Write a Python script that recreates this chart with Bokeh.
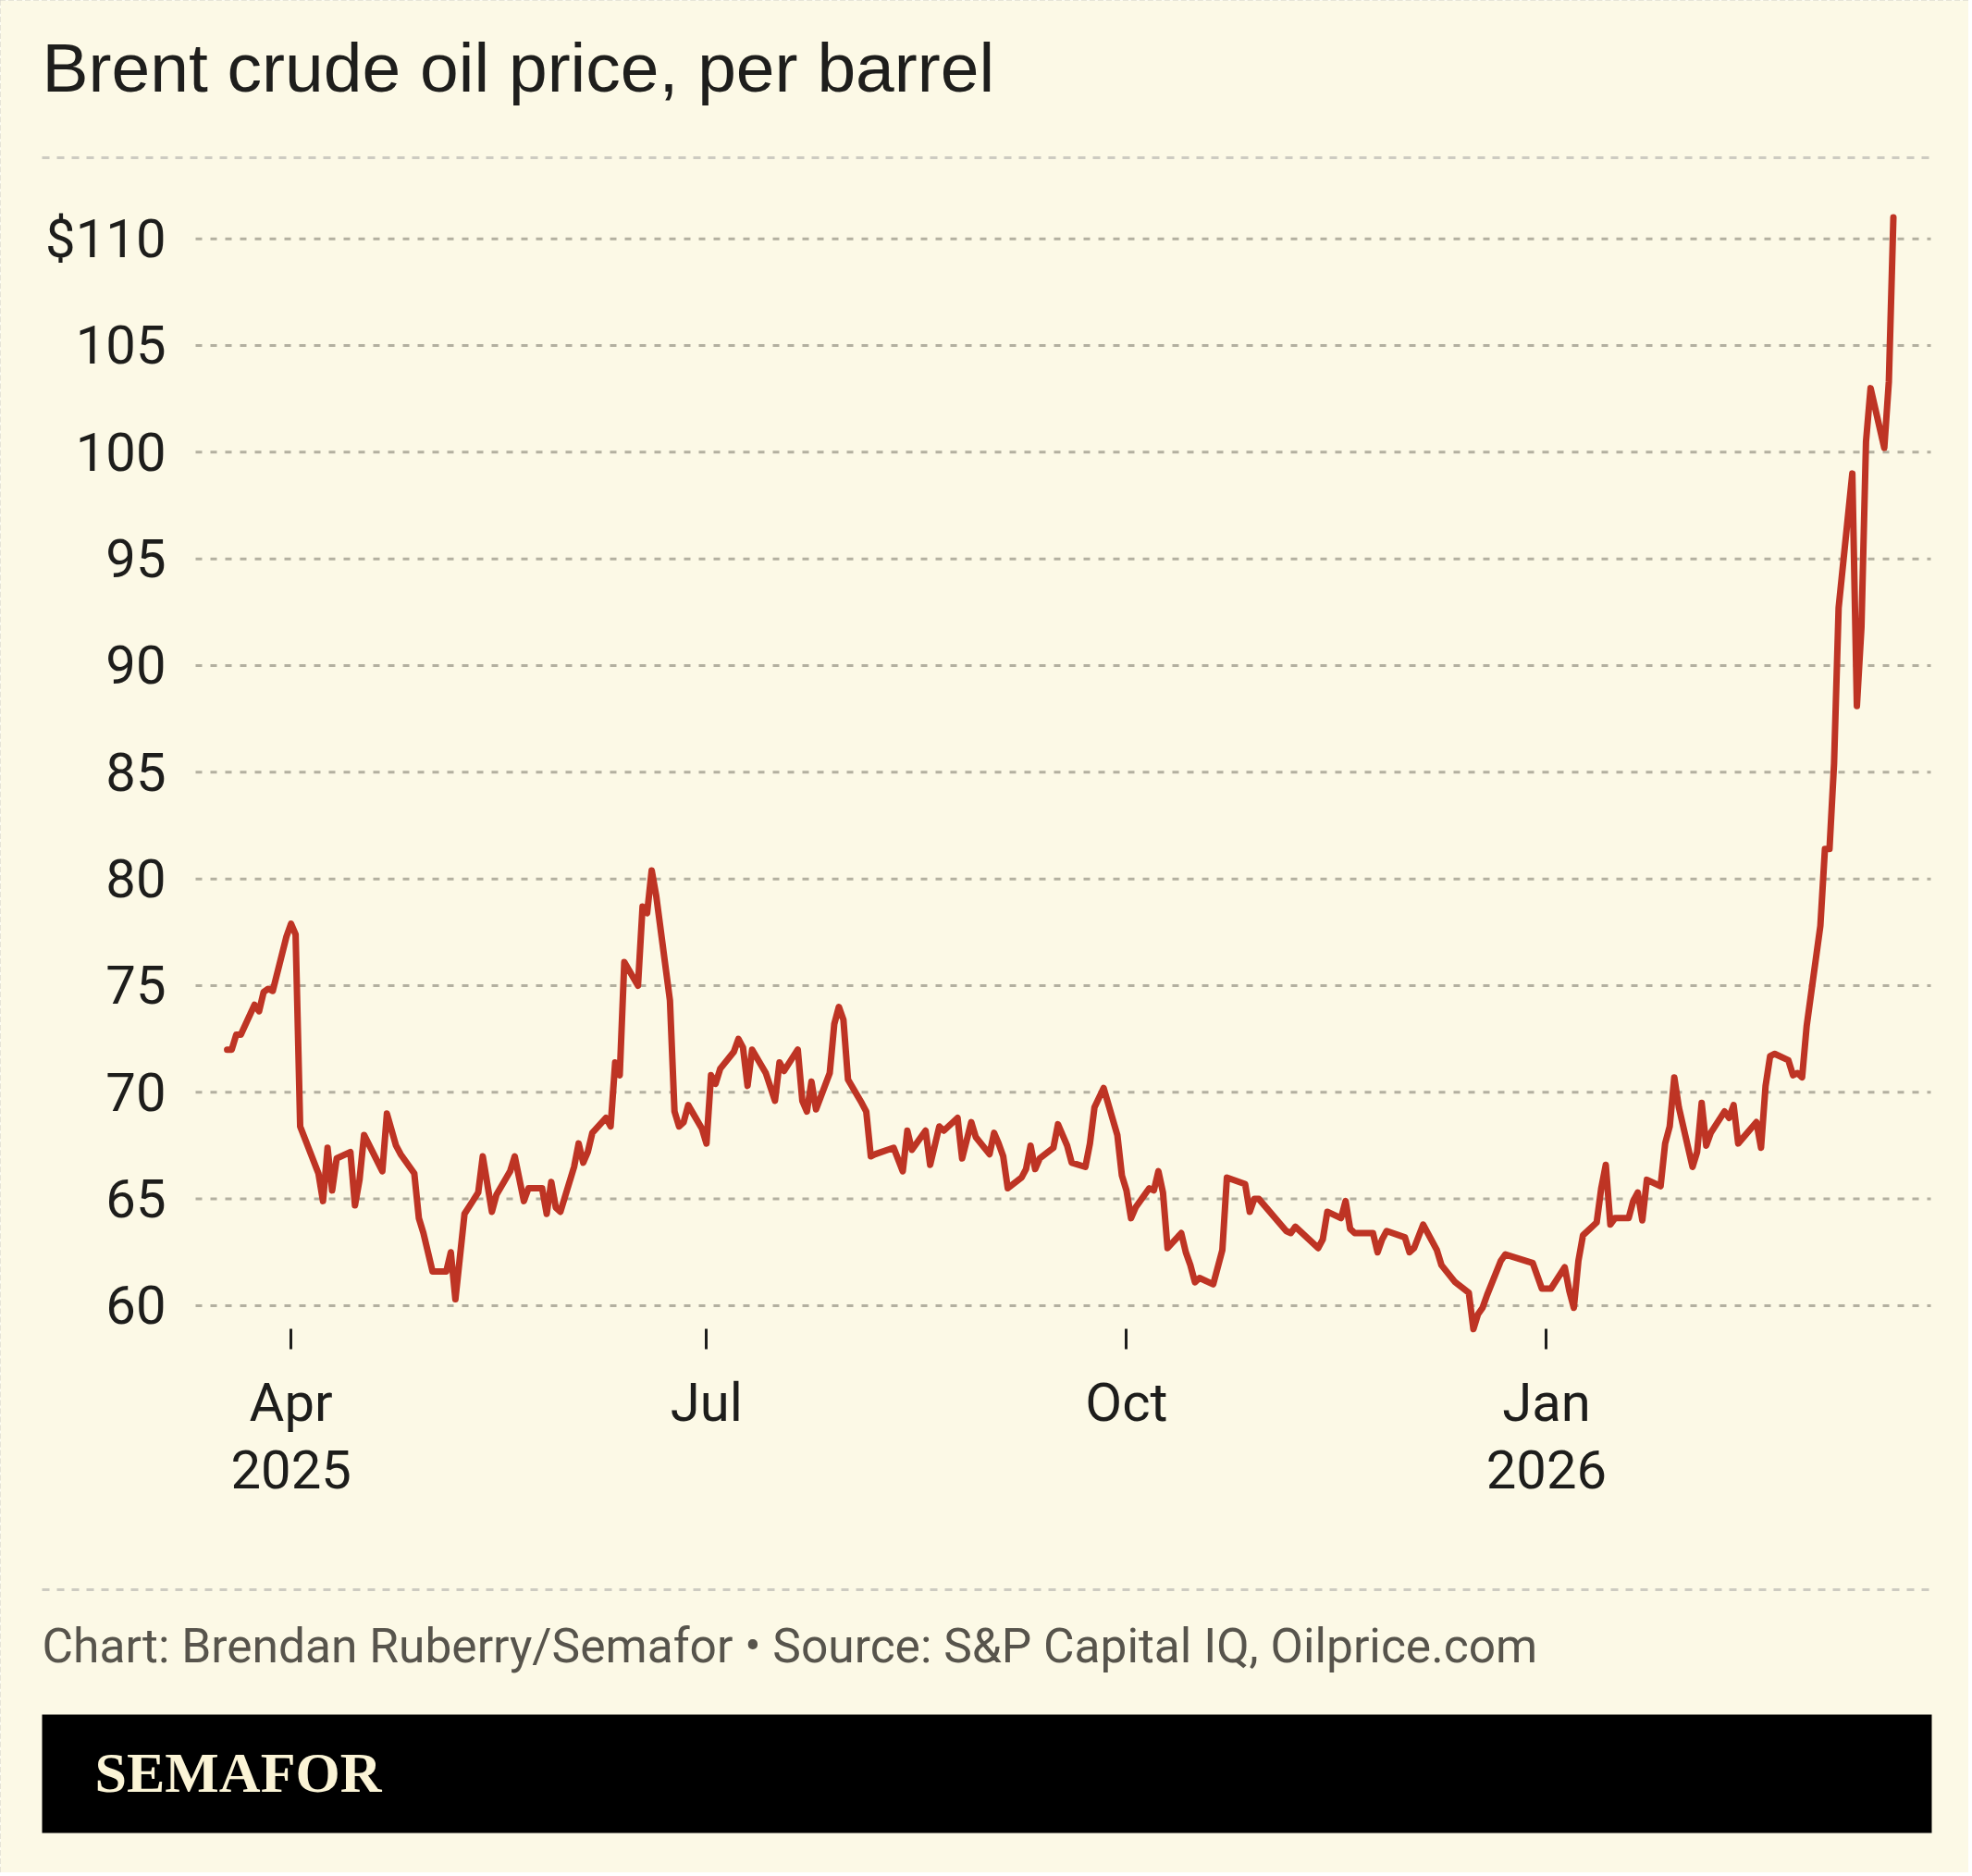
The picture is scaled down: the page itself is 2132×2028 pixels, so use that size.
import pandas as pd
from bokeh.plotting import figure
from bokeh.models import (Range1d, FixedTicker, ColumnDataSource, DatetimeAxis, LinearAxis)
from bokeh.embed import file_html
from bokeh.resources import INLINE
from bokeh.core.properties import value

# ---------------- data ----------------
dates = [
    "2025-03-18", "2025-03-19", "2025-03-20", "2025-03-21", "2025-03-24", "2025-03-25",
    "2025-03-26", "2025-03-27", "2025-03-28", "2025-03-31", "2025-04-01", "2025-04-02",
    "2025-04-03", "2025-04-07", "2025-04-08", "2025-04-09", "2025-04-10", "2025-04-11",
    "2025-04-14", "2025-04-15", "2025-04-16", "2025-04-17", "2025-04-21", "2025-04-22",
    "2025-04-24", "2025-04-25", "2025-04-28", "2025-04-29", "2025-04-30", "2025-05-02",
    "2025-05-05", "2025-05-06", "2025-05-07", "2025-05-09", "2025-05-12", "2025-05-13",
    "2025-05-15", "2025-05-16", "2025-05-19", "2025-05-20", "2025-05-22", "2025-05-23",
    "2025-05-26", "2025-05-27", "2025-05-28", "2025-05-29", "2025-05-30", "2025-06-02",
    "2025-06-03", "2025-06-04", "2025-06-05", "2025-06-06", "2025-06-09", "2025-06-10",
    "2025-06-11", "2025-06-12", "2025-06-13", "2025-06-16", "2025-06-17", "2025-06-18",
    "2025-06-19", "2025-06-20", "2025-06-23", "2025-06-24", "2025-06-25", "2025-06-26",
    "2025-06-27", "2025-06-30", "2025-07-01", "2025-07-02", "2025-07-03", "2025-07-04",
    "2025-07-07", "2025-07-08", "2025-07-09", "2025-07-10", "2025-07-11", "2025-07-14",
    "2025-07-16", "2025-07-17", "2025-07-18", "2025-07-21", "2025-07-22", "2025-07-23",
    "2025-07-24", "2025-07-25", "2025-07-28", "2025-07-29", "2025-07-30", "2025-07-31",
    "2025-08-01", "2025-08-04", "2025-08-05", "2025-08-06", "2025-08-07", "2025-08-11",
    "2025-08-13", "2025-08-14", "2025-08-15", "2025-08-18", "2025-08-19", "2025-08-21",
    "2025-08-22", "2025-08-25", "2025-08-26", "2025-08-28", "2025-08-29", "2025-09-01",
    "2025-09-02", "2025-09-03", "2025-09-04", "2025-09-05", "2025-09-08", "2025-09-09",
    "2025-09-10", "2025-09-11", "2025-09-12", "2025-09-15", "2025-09-16", "2025-09-18",
    "2025-09-19", "2025-09-22", "2025-09-23", "2025-09-24", "2025-09-26", "2025-09-29",
    "2025-09-30", "2025-10-01", "2025-10-02", "2025-10-03", "2025-10-06", "2025-10-07",
    "2025-10-08", "2025-10-09", "2025-10-10", "2025-10-13", "2025-10-14", "2025-10-15",
    "2025-10-16", "2025-10-17", "2025-10-20", "2025-10-22", "2025-10-23", "2025-10-27",
    "2025-10-28", "2025-10-29", "2025-10-30", "2025-11-05", "2025-11-06", "2025-11-07",
    "2025-11-12", "2025-11-13", "2025-11-14", "2025-11-17", "2025-11-18", "2025-11-19",
    "2025-11-20", "2025-11-24", "2025-11-25", "2025-11-26", "2025-11-27", "2025-12-01",
    "2025-12-02", "2025-12-03", "2025-12-05", "2025-12-08", "2025-12-09", "2025-12-12",
    "2025-12-15", "2025-12-16", "2025-12-17", "2025-12-18", "2025-12-19", "2025-12-22",
    "2025-12-23", "2025-12-29", "2025-12-31", "2026-01-02", "2026-01-05", "2026-01-06",
    "2026-01-07", "2026-01-08", "2026-01-09", "2026-01-12", "2026-01-13", "2026-01-14",
    "2026-01-15", "2026-01-16", "2026-01-19", "2026-01-20", "2026-01-21", "2026-01-22",
    "2026-01-23", "2026-01-26", "2026-01-27", "2026-01-28", "2026-01-29", "2026-01-30",
    "2026-02-02", "2026-02-03", "2026-02-04", "2026-02-05", "2026-02-06", "2026-02-09",
    "2026-02-10", "2026-02-11", "2026-02-12", "2026-02-16", "2026-02-17", "2026-02-18",
    "2026-02-19", "2026-02-20", "2026-02-23", "2026-02-24", "2026-02-25", "2026-02-26",
    "2026-02-27", "2026-03-02", "2026-03-03", "2026-03-04", "2026-03-05", "2026-03-06",
    "2026-03-09", "2026-03-10", "2026-03-11", "2026-03-12", "2026-03-13", "2026-03-16",
    "2026-03-17", "2026-03-18",
]
prices = [
    72.0, 72.0, 72.7, 72.7, 74.1, 73.8,
    74.7, 74.85, 74.75, 77.3, 77.9, 77.4,
    68.4, 66.2, 64.9, 67.4, 65.4, 66.9,
    67.2, 64.7, 65.9, 68.0, 66.3, 69.0,
    67.5, 67.1, 66.2, 64.1, 63.4, 61.6,
    61.6, 62.5, 60.3, 64.3, 65.3, 67.0,
    64.4, 65.2, 66.3, 67.0, 64.9, 65.5,
    65.5, 64.3, 65.8, 64.6, 64.4, 66.5,
    67.6, 66.7, 67.2, 68.1, 68.8, 68.4,
    71.4, 70.8, 76.1, 75.0, 78.7, 78.4,
    80.4, 79.2, 74.3, 69.1, 68.4, 68.6,
    69.4, 68.3, 67.6, 70.8, 70.4, 71.1,
    71.9, 72.5, 72.1, 70.3, 72.0, 70.9,
    69.6, 71.4, 71.0, 72.0, 69.6, 69.1,
    70.5, 69.2, 70.9, 73.2, 74.0, 73.4,
    70.6, 69.5, 69.1, 67.0, 67.1, 67.4,
    66.3, 68.2, 67.3, 68.2, 66.6, 68.4,
    68.2, 68.8, 66.9, 68.6, 67.9, 67.1,
    68.1, 67.6, 67.0, 65.5, 66.0, 66.4,
    67.5, 66.4, 66.9, 67.4, 68.5, 67.5,
    66.7, 66.5, 67.6, 69.3, 70.2, 68.0,
    66.1, 65.4, 64.1, 64.6, 65.5, 65.4,
    66.3, 65.3, 62.7, 63.4, 62.5, 61.9,
    61.1, 61.3, 61.0, 62.6, 66.0, 65.7,
    64.4, 65.0, 65.0, 63.5, 63.4, 63.7,
    62.7, 63.1, 64.4, 64.1, 64.9, 63.6,
    63.4, 63.4, 62.5, 63.1, 63.5, 63.2,
    62.5, 62.7, 63.8, 62.6, 61.9, 61.1,
    60.6, 58.9, 59.6, 59.9, 60.5, 62.1,
    62.4, 62.0, 60.8, 60.8, 61.8, 60.7,
    59.9, 62.1, 63.3, 63.9, 65.5, 66.6,
    63.8, 64.1, 64.1, 64.9, 65.3, 64.0,
    65.9, 65.6, 67.6, 68.4, 70.7, 69.3,
    66.5, 67.2, 69.5, 67.5, 68.1, 69.1,
    68.8, 69.4, 67.6, 68.6, 67.4, 70.3,
    71.7, 71.8, 71.5, 70.8, 70.9, 70.7,
    73.1, 77.8, 81.4, 81.4, 85.4, 92.7,
    99.0, 88.1, 91.8, 100.5, 103.0, 100.2,
    103.3, 111.0,
]
y_ticks = [60, 65, 70, 75, 80, 85, 90, 95, 100, 105, 110]
y_tick_labels = ["60", "65", "70", "75", "80", "85", "90", "95", "100", "105", "$110"]
month_tick_dates = ["2025-04-01", "2025-07-01", "2025-10-01", "2026-01-01"]
month_tick_labels = ["Apr", "Jul", "Oct", "Jan"]
year_tick_dates = ["2025-04-01", "2026-01-01"]
year_tick_labels = ["2025", "2026"]
title_text = "Brent crude oil price, per barrel"
credit_text = "Chart: Brendan Ruberry/Semafor \u2022 Source: S&P Capital IQ, Oilprice.com"
brand_text = "SEMAFOR"

# ---------------- styling / layout ----------------
BG = "#FCF9E6"
INK = "#1d1d1b"
LINE = "#BE3424"
GRID = "#b3b0a0"
RULE = "#cdcbc1"
W, H = 2128, 2024
# plot area (canvas pixels) and the data values at its edges
FL, FR, FT, FB = 211, 2087, 200, 1446
APR1_MS = pd.Timestamp("2025-04-01").value // 10**6
DAY_MS = 86400000
X0_DAYS, X1_DAYS = -20.9, 359.2
Y0, Y1 = 58.48, 112.5
KX = (X1_DAYS - X0_DAYS) / (FR - FL)     # days per pixel
KY = (Y1 - Y0) / (FB - FT)               # dollars per pixel

def px_x(sx):
    return APR1_MS + (X0_DAYS + (sx - FL) * KX) * DAY_MS

def px_y(sy):
    return Y1 - (sy - FT) * KY

src = ColumnDataSource(dict(date=pd.to_datetime(dates), price=prices))

# the frame fills the whole canvas; ranges are extended so the chart area sits at FL..FR, FT..FB
p = figure(width=W, height=H,
           x_range=Range1d(px_x(0), px_x(W)), y_range=Range1d(px_y(H), px_y(0)),
           x_axis_location=None, y_axis_location=None,
           output_backend="svg", toolbar_location=None, min_border=0,
           styles={"outline": "3px dashed #d0cec8", "outline-offset": "-3px"})
p.background_fill_color = BG
p.border_fill_color = BG
p.outline_line_color = None
p.grid.visible = False

# horizontal gridlines across the plot area
n = len(y_ticks)
p.segment(x0=[px_x(FL)] * n, x1=[px_x(FR)] * n, y0=y_ticks, y1=y_ticks,
          line_color=GRID, line_width=3, line_dash="7 9")

p.line("date", "price", source=src, line_color=LINE, line_width=7,
       line_join="round", line_cap="round")

# y axis, fixed at the left edge of the plot area
yax = LinearAxis(fixed_location=px_x(FL), ticker=FixedTicker(ticks=y_ticks),
                 major_label_overrides={t: l for t, l in zip(y_ticks, y_tick_labels)},
                 axis_line_color=None, major_tick_line_color=None, minor_tick_line_color=None,
                 major_tick_in=0, major_tick_out=0, minor_tick_in=0, minor_tick_out=0,
                 major_label_standoff=32, major_label_text_font="Roboto",
                 major_label_text_font_size="58px", major_label_text_color=INK)
p.add_layout(yax, "left")

# x axis (months + ticks), fixed at the bottom of the plot area
m_ms = [pd.Timestamp(d).value // 10**6 for d in month_tick_dates]
xax = DatetimeAxis(fixed_location=px_y(FB), ticker=FixedTicker(ticks=m_ms),
                   major_label_overrides={t: l for t, l in zip(m_ms, month_tick_labels)},
                   axis_line_color=None, minor_tick_line_color=None,
                   major_tick_line_color=INK, major_tick_line_width=3,
                   major_tick_in=10, major_tick_out=12, minor_tick_in=0, minor_tick_out=0,
                   major_label_standoff=23, major_label_text_font="Roboto",
                   major_label_text_font_size="58px", major_label_text_color=INK)
p.add_layout(xax, "below")

# second row of x labels (years)
y_ms = [pd.Timestamp(d).value // 10**6 for d in year_tick_dates]
yr_axis = DatetimeAxis(fixed_location=px_y(FB), ticker=FixedTicker(ticks=y_ms),
                       major_label_overrides={t: l for t, l in zip(y_ms, year_tick_labels)},
                       axis_line_color=None, major_tick_line_color=None,
                       minor_tick_line_color=None, major_tick_in=0, major_tick_out=0,
                       minor_tick_in=0, minor_tick_out=0,
                       major_label_standoff=121, major_label_text_font="Roboto",
                       major_label_text_font_size="58px", major_label_text_color=INK)
p.add_layout(yr_axis, "below")

# header
p.text(x=[px_x(45)], y=[px_y(72)], text=[title_text], text_font=value("Liberation Sans"),
       text_font_size="75px", text_color="#1e1e1c", text_baseline="alphabetic",
       text_align="left")
p.segment(x0=[px_x(45)], y0=[px_y(170)], x1=[px_x(2087)], y1=[px_y(170)],
          line_color=RULE, line_width=3, line_dash="8 8")

# footer
p.segment(x0=[px_x(45)], y0=[px_y(1718)], x1=[px_x(2087)], y1=[px_y(1718)],
          line_color=RULE, line_width=3, line_dash="8 8")
p.text(x=[px_x(45)], y=[px_y(1779)], text=[credit_text], text_font=value("Roboto"),
       text_font_size="51.5px", text_color="#57544c", text_baseline="alphabetic",
       text_align="left")
p.quad(left=[px_x(45)], right=[px_x(2088)], top=[px_y(1853)], bottom=[px_y(1981)],
       fill_color="#000000", line_color=None)
p.text(x=[px_x(102)], y=[px_y(1915)], text=[brand_text], text_font=value("Liberation Serif"),
       text_font_style="bold", text_font_size="62px", text_color="#FBF4D6",
       text_baseline="alphabetic", text_align="left")

open("out.html", "w").write(file_html(p, INLINE, "Brent crude oil price"))
